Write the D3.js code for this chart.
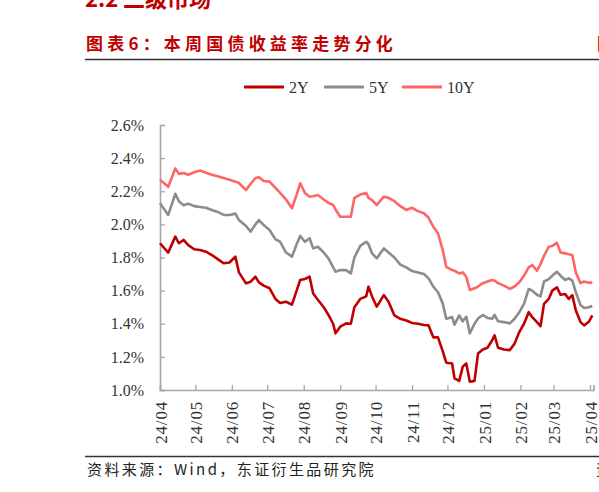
<!DOCTYPE html>
<html>
<head>
<meta charset="utf-8">
<script src="https://cdn.jsdelivr.net/npm/d3@7"></script>
<style>
  body { margin: 0; background: #fff; }
  svg { display: block; }
</style>
</head>
<body>
<div id="chart"></div>
<script>
// ---- data (yield, %) ----
var dates = [
  "2024-04-01","2024-04-08","2024-04-14","2024-04-17","2024-04-21","2024-04-25","2024-04-30",
  "2024-05-05","2024-05-10","2024-05-15","2024-05-20","2024-05-25","2024-05-30",
  "2024-06-04","2024-06-07","2024-06-13","2024-06-17","2024-06-21","2024-06-24","2024-06-28",
  "2024-07-03","2024-07-08","2024-07-12","2024-07-17","2024-07-22","2024-07-26","2024-07-29",
  "2024-08-02","2024-08-06","2024-08-09","2024-08-13","2024-08-18","2024-08-22","2024-08-26","2024-08-28",
  "2024-09-01","2024-09-06","2024-09-10","2024-09-13","2024-09-18","2024-09-23","2024-09-25","2024-09-28",
  "2024-10-02","2024-10-08","2024-10-12","2024-10-17","2024-10-22","2024-10-27",
  "2024-11-01","2024-11-06","2024-11-11","2024-11-15","2024-11-19","2024-11-23","2024-11-27","2024-11-30",
  "2024-12-05","2024-12-07","2024-12-11","2024-12-14","2024-12-17","2024-12-20","2024-12-24","2024-12-27","2024-12-31",
  "2025-01-04","2025-01-08","2025-01-10","2025-01-13","2025-01-18","2025-01-23","2025-01-27","2025-01-31",
  "2025-02-04","2025-02-08","2025-02-11","2025-02-15","2025-02-18","2025-02-21","2025-02-25","2025-02-28",
  "2025-03-04","2025-03-07","2025-03-11","2025-03-14","2025-03-17","2025-03-20","2025-03-24","2025-03-27","2025-03-31",
  "2025-04-03"
];

var y2 = [
  1.886,1.830,1.926,1.886,1.906,1.875,1.850,
  1.845,1.835,1.815,1.790,1.765,1.770,
  1.805,1.710,1.644,1.654,1.684,1.650,1.630,
  1.614,1.550,1.525,1.533,1.515,1.600,1.664,
  1.670,1.684,1.583,1.545,1.500,1.453,1.400,1.342,
  1.382,1.402,1.400,1.500,1.550,1.565,1.624,1.565,
  1.503,1.573,1.533,1.450,1.430,1.420,
  1.405,1.400,1.392,1.390,1.318,1.318,1.235,1.165,
  1.160,1.070,1.055,1.141,1.160,1.050,1.055,1.221,1.245,
  1.255,1.300,1.330,1.255,1.245,1.241,1.280,1.350,
  1.400,1.470,1.440,1.410,1.385,1.520,1.550,1.600,
  1.620,1.575,1.580,1.550,1.573,1.480,1.410,1.390,1.412,
  1.450
];

var y5 = [
  2.127,2.057,2.185,2.140,2.115,2.125,2.110,
  2.105,2.100,2.087,2.075,2.057,2.057,
  2.065,2.026,1.990,1.956,2.000,2.026,1.996,
  1.966,1.910,1.895,1.830,1.805,1.880,1.930,
  1.895,1.916,1.855,1.865,1.830,1.795,1.740,1.714,
  1.724,1.724,1.704,1.800,1.870,1.895,1.880,1.825,
  1.795,1.855,1.830,1.800,1.757,1.740,
  1.718,1.710,1.700,1.674,1.624,1.590,1.523,1.430,
  1.440,1.395,1.450,1.415,1.442,1.342,1.400,1.432,1.453,
  1.435,1.430,1.453,1.415,1.410,1.402,1.430,1.470,
  1.520,1.610,1.600,1.575,1.565,1.655,1.670,1.690,
  1.714,1.690,1.664,1.674,1.660,1.590,1.513,1.495,1.500,
  1.507
];

var y10 = [
  2.270,2.227,2.338,2.305,2.310,2.300,2.315,
  2.325,2.312,2.300,2.290,2.280,2.270,
  2.258,2.250,2.207,2.245,2.280,2.285,2.262,
  2.258,2.220,2.190,2.150,2.097,2.180,2.248,
  2.190,2.167,2.170,2.177,2.150,2.130,2.117,2.090,
  2.046,2.046,2.046,2.160,2.180,2.190,2.160,2.147,
  2.117,2.167,2.160,2.140,2.110,2.087,
  2.100,2.080,2.067,2.040,1.986,1.946,1.845,1.744,
  1.724,1.720,1.704,1.710,1.684,1.604,1.614,1.625,1.645,
  1.655,1.664,1.660,1.645,1.630,1.610,1.625,1.650,
  1.690,1.740,1.755,1.720,1.760,1.810,1.865,1.870,
  1.888,1.830,1.825,1.820,1.815,1.710,1.645,1.655,1.648,
  1.650
];

var seriesNames = ["2Y", "5Y", "10Y"];
var seriesColors = ["#c00000", "#8c8c8c", "#ff6565"];
var yTicks = [1.0, 1.2, 1.4, 1.6, 1.8, 2.0, 2.2, 2.4, 2.6];
var monthTicks = ["2024-04-01","2024-05-01","2024-06-01","2024-07-01","2024-08-01","2024-09-01",
  "2024-10-01","2024-11-01","2024-12-01","2025-01-01","2025-02-01","2025-03-01","2025-04-01"];
var xDomain = ["2024-04-01", "2025-04-04"];

var title = "图表6：本周国债收益率走势分化";
var heading = "2.2 二级市场";
var source = "资料来源：Wind，东证衍生品研究院";

// ---- drawing ----
var w = 599, h = 492;
var parse = d3.timeParse("%Y-%m-%d");
var cjk = "'Noto Sans CJK SC', sans-serif";
var serif = "'Liberation Serif', 'DejaVu Serif', serif";

var svg = d3.select("#chart").append("svg")
  .attr("width", w)
  .attr("height", h);

// headings (the section heading is cut by the top edge, as in the page it came from)
svg.append("text")
  .attr("x", 85).attr("y", 7)
  .attr("font-family", cjk).attr("font-size", "22px").attr("font-weight", "bold")
  .attr("fill", "#c00000")
  .text(heading);

svg.append("text")
  .attr("x", 86).attr("y", 49.5)
  .attr("font-family", cjk).attr("font-size", "17px").attr("font-weight", "bold")
  .attr("letter-spacing", "4.2px")
  .attr("fill", "#c00000")
  .text(title);
// next column's title peeking in at the right edge
svg.append("text")
  .attr("x", 597).attr("y", 49.5)
  .attr("font-family", cjk).attr("font-size", "17px").attr("font-weight", "bold")
  .attr("fill", "#c00000")
  .text("图");

svg.append("line")
  .attr("x1", 85).attr("x2", w).attr("y1", 59.5).attr("y2", 59.5)
  .attr("stroke", "#333").attr("stroke-width", 1.6);

svg.append("line")
  .attr("x1", 85).attr("x2", w).attr("y1", 456.5).attr("y2", 456.5)
  .attr("stroke", "#333").attr("stroke-width", 1.4);

svg.append("text")
  .attr("x", 87).attr("y", 475)
  .attr("font-family", cjk).attr("font-size", "15px")
  .attr("letter-spacing", "2.4px")
  .attr("fill", "#222")
  .text(source);
svg.append("text")
  .attr("x", 596).attr("y", 475)
  .attr("font-family", cjk).attr("font-size", "15px")
  .attr("fill", "#222")
  .text("资");

// scales
var x = d3.scaleTime()
  .domain(xDomain.map(parse))
  .range([160, 593.5]);
var y = d3.scaleLinear()
  .domain([1.0, 2.6])
  .range([390, 125]);

// axes
var yAxis = d3.axisLeft(y)
  .tickValues(yTicks)
  .tickSize(-5)
  .tickPadding(16)
  .tickFormat(function(d) { return d3.format(".1f")(d) + "%"; });

var gy = svg.append("g")
  .attr("transform", "translate(160,0)")
  .call(yAxis);

var xAxis = d3.axisBottom(x)
  .tickValues(monthTicks.map(parse))
  .tickSize(-5)
  .tickFormat(d3.timeFormat("%y/%m"));

var gx = svg.append("g")
  .attr("transform", "translate(0,390)")
  .call(xAxis);

[gx, gy].forEach(function(g) {
  g.select(".domain").attr("stroke", "#a6a6a6").attr("stroke-width", 1.6);
  g.selectAll(".tick line").attr("stroke", "#a6a6a6").attr("stroke-width", 1.3);
  g.selectAll("text")
    .attr("font-family", serif)
    .attr("font-size", "16px")
    .attr("fill", "#333");
});

gx.selectAll("text")
  .attr("transform", "rotate(-90)")
  .attr("text-anchor", "end")
  .attr("x", -11)
  .attr("y", 0)
  .attr("dy", "0.36em")
  .attr("font-size", "17px")
  .attr("letter-spacing", "0.8px");

// lines
var allSeries = [y2, y5, y10];
var line = d3.line()
  .x(function(d) { return x(d.date); })
  .y(function(d) { return y(d.value); });

var rows = allSeries.map(function(vals, i) {
  return {
    name: seriesNames[i],
    color: seriesColors[i],
    values: vals.map(function(v, j) { return { date: parse(dates[j]), value: v }; })
  };
});

// draw 10Y first so 2Y ends up on top
svg.selectAll("path.series")
  .data(rows.slice().reverse())
  .enter()
  .append("path")
  .attr("class", "series")
  .attr("fill", "none")
  .attr("stroke", function(d) { return d.color; })
  .attr("stroke-width", 2.6)
  .attr("stroke-linejoin", "round")
  .attr("d", function(d) { return line(d.values); });

// legend
var legendX = [244, 324, 402];
var legend = svg.selectAll("g.legend")
  .data(rows)
  .enter()
  .append("g")
  .attr("class", "legend")
  .attr("transform", function(d, i) { return "translate(" + legendX[i] + ",87)"; });

legend.append("line")
  .attr("x1", 0).attr("x2", 40)
  .attr("stroke", function(d) { return d.color; })
  .attr("stroke-width", 3);

legend.append("text")
  .attr("x", 45).attr("dy", "0.35em")
  .attr("font-family", serif)
  .attr("font-size", "16px")
  .attr("fill", "#333")
  .text(function(d) { return d.name; });
</script>
</body>
</html>
